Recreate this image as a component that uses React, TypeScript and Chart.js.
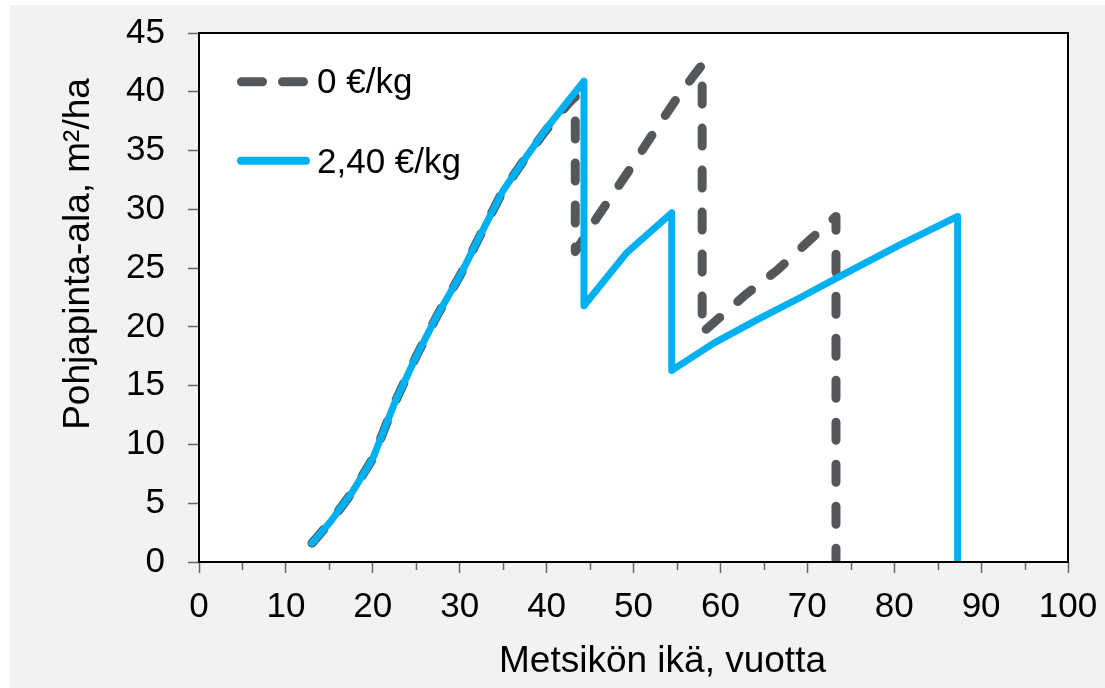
import React, { useEffect, useRef } from 'react';
import { Chart, registerables } from 'chart.js';

Chart.register(...registerables);

// Series "0 €/kg" (grey dashed)
const ageZero = [13, 15.1, 17.6, 20, 22.5, 25, 27.5, 30, 32.5, 35, 37.5, 40, 42.5, 43.3, 43.3, 45.8, 49.3, 52.3, 55.4, 57.9, 57.9, 63.0, 66.5, 70.3, 73.3, 73.3];
const baZero = [1.6, 3.4, 5.9, 8.8, 13.5, 17.5, 21.1, 24.3, 28.0, 31.6, 34.3, 36.8, 39.0, 39.6, 26.4, 29.3, 33.1, 36.5, 39.9, 42.3, 19.5, 22.8, 24.8, 27.4, 29.4, 0];

// Series "2,40 €/kg" (blue solid)
const ageHigh = [13, 15.1, 17.6, 20, 22.5, 25, 27.5, 30, 32.5, 35, 37.5, 40, 42.5, 44.3, 44.3, 49.2, 54.4, 54.4, 59.2, 64.2, 69.2, 74.5, 80.7, 87.3, 87.3];
const baHigh = [1.6, 3.4, 5.9, 8.8, 13.5, 17.5, 21.1, 24.3, 28.0, 31.6, 34.3, 36.9, 39.25, 40.9, 21.8, 26.3, 29.7, 16.3, 18.6, 20.6, 22.5, 24.6, 27.0, 29.4, 0];

const seriesLabels = ['0 €/kg', '2,40 €/kg'];
const minorXTicks = [5, 15, 25, 35, 45, 55, 65, 75, 85, 95];
const xTitle = 'Metsikön ikä, vuotta';
const yTitle = 'Pohjapinta-ala, m²/ha';

const FONT = '"Liberation Sans", Arial, sans-serif';
const GREY = '#55585b';
const BLUE = '#00b0f0';
const TICK = '#666666';

const toPoints = (xs: number[], ys: number[]) => xs.map((x, i) => ({ x, y: ys[i] }));

const decor = {
  id: 'decor',
  beforeDraw(chart: any) {
    const { ctx, chartArea: a } = chart;
    ctx.save();
    ctx.fillStyle = '#ffffff';
    ctx.fillRect(a.left, a.top, a.right - a.left, a.bottom - a.top);
    ctx.restore();
  },
  afterDraw(chart: any) {
    const { ctx, chartArea: a } = chart;
    const xs = chart.scales.x;
    ctx.save();
    // minor ticks
    ctx.strokeStyle = TICK;
    ctx.lineWidth = 1.5;
    minorXTicks.forEach((v) => {
      const px = Math.round(xs.getPixelForValue(v)) + 0.5;
      ctx.beginPath();
      ctx.moveTo(px, a.bottom);
      ctx.lineTo(px, a.bottom + 8);
      ctx.stroke();
    });
    // plot frame
    ctx.strokeStyle = '#000000';
    ctx.lineWidth = 2;
    ctx.strokeRect(a.left, a.top, a.right - a.left, a.bottom - a.top);

    // axis titles
    ctx.fillStyle = '#000000';
    ctx.font = `37px ${FONT}`;
    ctx.textAlign = 'center';
    ctx.textBaseline = 'alphabetic';
    ctx.fillText(xTitle, 652.5, 667);
    ctx.save();
    ctx.translate(79, 249);
    ctx.rotate(-Math.PI / 2);
    ctx.fillText(yTitle, 0, 0);
    ctx.restore();

    // legend
    const ds = chart.data.datasets;
    ctx.lineCap = 'round';
    ctx.font = `35px ${FONT}`;
    ctx.textAlign = 'left';
    // grey dashed
    ctx.strokeStyle = ds[0].borderColor;
    ctx.lineWidth = 9;
    ctx.setLineDash([21, 20]);
    ctx.beginPath();
    ctx.moveTo(231.5, 76.7);
    ctx.lineTo(293.5, 76.7);
    ctx.stroke();
    ctx.setLineDash([]);
    ctx.fillText(ds[0].label, 307, 88);
    // blue solid
    ctx.strokeStyle = ds[1].borderColor;
    ctx.lineWidth = 8;
    ctx.beginPath();
    ctx.moveTo(231, 155.7);
    ctx.lineTo(296, 155.7);
    ctx.stroke();
    ctx.fillText(ds[1].label, 307, 168);
    ctx.restore();
  },
};

export default function App() {
  const ref = useRef<HTMLCanvasElement>(null);

  useEffect(() => {
    if (!ref.current) return;
    const tickFont = { size: 35, family: FONT };
    const chart = new Chart(ref.current, {
      type: 'line',
      data: {
        datasets: [
          {
            label: seriesLabels[0],
            data: toPoints(ageZero, baZero),
            borderColor: GREY,
            borderWidth: 9,
            borderDash: [18, 24],
            borderCapStyle: 'round',
            borderJoinStyle: 'round',
            pointRadius: 0,
            tension: 0,
            fill: false,
            order: 2,
            clip: { left: 10, top: 10, right: 10, bottom: 0 },
          },
          {
            label: seriesLabels[1],
            data: toPoints(ageHigh, baHigh),
            borderColor: BLUE,
            borderWidth: 7,
            borderCapStyle: 'round',
            borderJoinStyle: 'round',
            pointRadius: 0,
            tension: 0,
            fill: false,
            order: 1,
            clip: { left: 10, top: 10, right: 10, bottom: 0 },
          },
        ],
      } as any,
      options: {
        responsive: false,
        animation: false,
        devicePixelRatio: 1,
        layout: { padding: { left: 0, top: 28, right: 37, bottom: 0 } },
        plugins: { legend: { display: false }, tooltip: { enabled: false } },
        scales: {
          x: {
            type: 'linear',
            min: 0,
            max: 100,
            ticks: { stepSize: 10, font: tickFont, color: '#000', padding: 13.5, maxRotation: 0, autoSkip: false },
            grid: { drawOnChartArea: false, tickLength: 11, tickColor: TICK, tickWidth: 1.5 },
            border: { display: false },
            afterFit: (s: any) => {
              s.height = 126;
              s.paddingLeft = 0;
              s.paddingRight = 0;
            },
          },
          y: {
            min: 0,
            max: 45,
            ticks: { stepSize: 5, font: tickFont, color: '#000', padding: 23, autoSkip: false },
            grid: { drawOnChartArea: false, tickLength: 11, tickColor: TICK, tickWidth: 1.5 },
            border: { display: false },
            afterFit: (s: any) => {
              s.width = 189;
              s.paddingTop = 0;
              s.paddingBottom = 0;
            },
          },
        },
      } as any,
      plugins: [decor],
    });
    return () => chart.destroy();
  }, []);

  return (
    <div
      style={{
        position: 'absolute',
        left: 10,
        top: 5,
        width: 1095,
        height: 683,
        background: '#f2f2f2',
      }}
    >
      <canvas ref={ref} width={1095} height={683} style={{ display: 'block', width: 1095, height: 683 }} />
    </div>
  );
}
